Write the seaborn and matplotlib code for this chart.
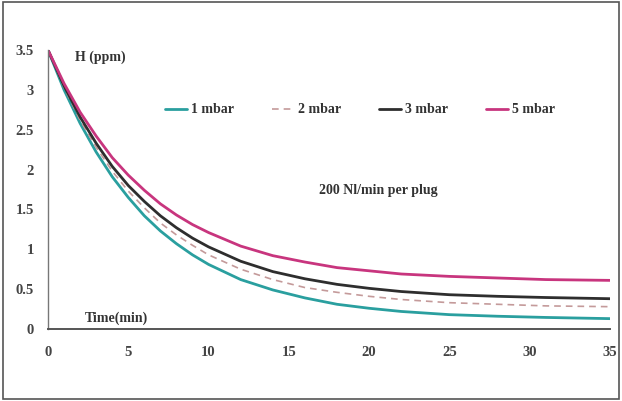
import matplotlib
matplotlib.use("Agg")
import matplotlib.pyplot as plt
import seaborn as sns
import pandas as pd
from matplotlib.patches import Rectangle

# ---- data ----
time_min = [0, 1, 2, 3, 4, 5, 6, 7, 8, 9, 10, 12, 14, 16, 18, 20, 22, 25, 28, 31, 35]
h_1mbar = [3.5, 3.00, 2.58, 2.22, 1.91, 1.65, 1.42, 1.23, 1.07, 0.93, 0.81, 0.62, 0.49, 0.39, 0.31, 0.26, 0.22, 0.18, 0.16, 0.145, 0.13]
h_2mbar = [3.5, 3.03, 2.62, 2.28, 1.98, 1.73, 1.52, 1.33, 1.18, 1.05, 0.93, 0.75, 0.62, 0.52, 0.46, 0.41, 0.37, 0.33, 0.31, 0.29, 0.28]
h_3mbar = [3.5, 3.05, 2.66, 2.33, 2.04, 1.80, 1.60, 1.42, 1.27, 1.14, 1.03, 0.85, 0.72, 0.63, 0.56, 0.51, 0.47, 0.43, 0.41, 0.395, 0.38]
h_5mbar = [3.5, 3.08, 2.72, 2.42, 2.15, 1.93, 1.74, 1.57, 1.43, 1.31, 1.21, 1.04, 0.92, 0.84, 0.77, 0.73, 0.69, 0.66, 0.64, 0.62, 0.61]
series_labels = ["1 mbar", "2 mbar", "3 mbar", "5 mbar"]
x_ticks = [0, 5, 10, 15, 20, 25, 30, 35]
y_ticks = [0, 0.5, 1, 1.5, 2, 2.5, 3, 3.5]
y_tick_labels = ["0", "0.5", "1", "1.5", "2", "2.5", "3", "3.5"]

sns.set_style("white")
plt.rcParams["font.family"] = ["Liberation Serif", "DejaVu Serif"]

fig = plt.figure(figsize=(6.22, 4.01), dpi=100)
ax = fig.add_axes([48 / 622, 1 - 329 / 401, (610 - 48) / 622, (329 - 50) / 401])

# figure border
fig.patches.append(Rectangle((0.005, 0.006), 0.99, 0.988, transform=fig.transFigure,
                             fill=False, edgecolor="#555555", linewidth=1.2))

styles = [
    dict(color="#2a9f9f", lw=2.0, ls="-"),
    dict(color="#c49a9a", lw=1.2, ls=(0, (4, 3))),
    dict(color="#2e2e2e", lw=2.0, ls="-"),
    dict(color="#c8357e", lw=2.0, ls="-"),
]
all_vals = [h_1mbar, h_2mbar, h_3mbar, h_5mbar]
for lab, vals, st in zip(series_labels, all_vals, styles):
    df = pd.DataFrame({"t": time_min, "h": vals})
    sns.lineplot(data=df, x="t", y="h", ax=ax, color=st["color"], linewidth=st["lw"],
                 linestyle=st["ls"], label=lab)

ax.set_xlim(0, 35)
ax.set_ylim(0, 3.5)
ax.set_xticks(x_ticks)
ax.set_yticks(y_ticks)
ax.set_yticklabels(y_tick_labels)
ax.set_xlabel("")
ax.set_ylabel("")
for s in ["top", "right"]:
    ax.spines[s].set_visible(False)
for s in ["left", "bottom"]:
    ax.spines[s].set_color("#777777")
    ax.spines[s].set_linewidth(1.0)
ax.spines["bottom"].set_color("#555555")
ax.spines["bottom"].set_linewidth(1.4)
ax.tick_params(axis="both", colors="#777777", labelcolor="#444444", labelsize=10.5,
               length=4, width=0.8)
ax.tick_params(axis="x", direction="inout", pad=10)
ax.tick_params(axis="y", direction="out", pad=6)
for t in ax.get_xticklabels() + ax.get_yticklabels():
    t.set_fontweight("bold")

txt_kw = dict(color="#333333", fontsize=10, fontweight="bold")
ax.text(1.7, 3.41, "H (ppm)", ha="left", va="center", **txt_kw)
ax.text(20.6, 1.74, "200 Nl/min per plug", ha="center", va="center", **txt_kw)
ax.text(2.3, 0.14, "Time(min)", ha="left", va="center", **txt_kw)

leg = ax.legend(loc="center", bbox_to_anchor=(0.555, 0.785), ncol=4, frameon=False,
                handlelength=1.6, handletextpad=0.3, columnspacing=2.7,
                prop={"weight": "bold", "size": 10})
for t in leg.get_texts():
    t.set_color("#333333")

fig.savefig("out.png", dpi=100)
